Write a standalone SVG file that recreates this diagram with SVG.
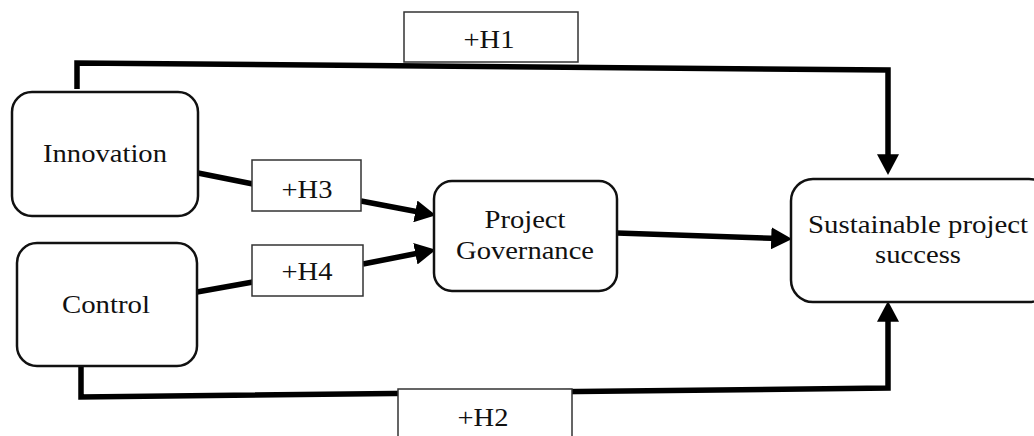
<svg xmlns="http://www.w3.org/2000/svg" width="1034" height="436" viewBox="0 0 1034 436">
<style>
.node{fill:#fff;stroke:#111;stroke-width:2.5}
.lbl{fill:#fff;stroke:#333;stroke-width:1.5}
.t{font-family:"Liberation Serif","Times New Roman",serif;font-size:26px;fill:#111;text-anchor:middle}
.c{fill:none;stroke:#000;stroke-width:5.5;stroke-linejoin:miter}
</style>
<defs>
<marker id="ah" markerUnits="userSpaceOnUse" markerWidth="22" markerHeight="22" viewBox="0 0 20 20" refX="8" refY="10" orient="auto">
<path d="M0,0 L19,10 L0,20 Z" fill="#000"/>
</marker>
</defs>
<rect width="1034" height="436" fill="#fff"/>
<g id="connectors">
<path class="c" d="M77,89 L77,63 L888,70 L888,163" marker-end="url(#ah)"/>
<path class="c" d="M81,366 L81,397 L888,388 L888,313" marker-end="url(#ah)"/>
<path class="c" d="M617,233 L780,238.6" marker-end="url(#ah)"/>
<path class="c" d="M198,173 L253,184"/>
<path class="c" d="M361,201 L424,213" marker-end="url(#ah)"/>
<path class="c" d="M197,292 L253,282"/>
<path class="c" d="M363,264 L424,252" marker-end="url(#ah)"/>
</g>
<g id="label-h1">
<rect class="lbl" x="404" y="12" width="174" height="50"/>
<text class="t" x="489" y="48" textLength="51" lengthAdjust="spacingAndGlyphs">+H1</text>
</g>
<g id="label-h2">
<rect class="lbl" x="398" y="389" width="174" height="60"/>
<text class="t" x="483" y="426" textLength="51" lengthAdjust="spacingAndGlyphs">+H2</text>
</g>
<g id="label-h3">
<rect class="lbl" x="252" y="160" width="109" height="51"/>
<text class="t" x="307" y="198" textLength="51" lengthAdjust="spacingAndGlyphs">+H3</text>
</g>
<g id="label-h4">
<rect class="lbl" x="252" y="245" width="111" height="51"/>
<text class="t" x="307" y="280" textLength="51" lengthAdjust="spacingAndGlyphs">+H4</text>
</g>
<g id="node-innovation">
<rect class="node" x="12" y="92" width="186" height="124" rx="20"/>
<text class="t" x="105" y="162" textLength="124" lengthAdjust="spacingAndGlyphs">Innovation</text>
</g>
<g id="node-control">
<rect class="node" x="17" y="243" width="180" height="123" rx="20"/>
<text class="t" x="106" y="313" textLength="88" lengthAdjust="spacingAndGlyphs">Control</text>
</g>
<g id="node-governance">
<rect class="node" x="434" y="181" width="183" height="110" rx="18"/>
<text class="t" x="525" y="228" textLength="81" lengthAdjust="spacingAndGlyphs">Project</text>
<text class="t" x="525" y="259" textLength="138" lengthAdjust="spacingAndGlyphs">Governance</text>
</g>
<g id="node-success">
<rect class="node" x="791" y="179" width="260" height="123" rx="22"/>
<text class="t" x="918" y="233" textLength="220" lengthAdjust="spacingAndGlyphs">Sustainable project</text>
<text class="t" x="918" y="263" textLength="86" lengthAdjust="spacingAndGlyphs">success</text>
</g>
</svg>
